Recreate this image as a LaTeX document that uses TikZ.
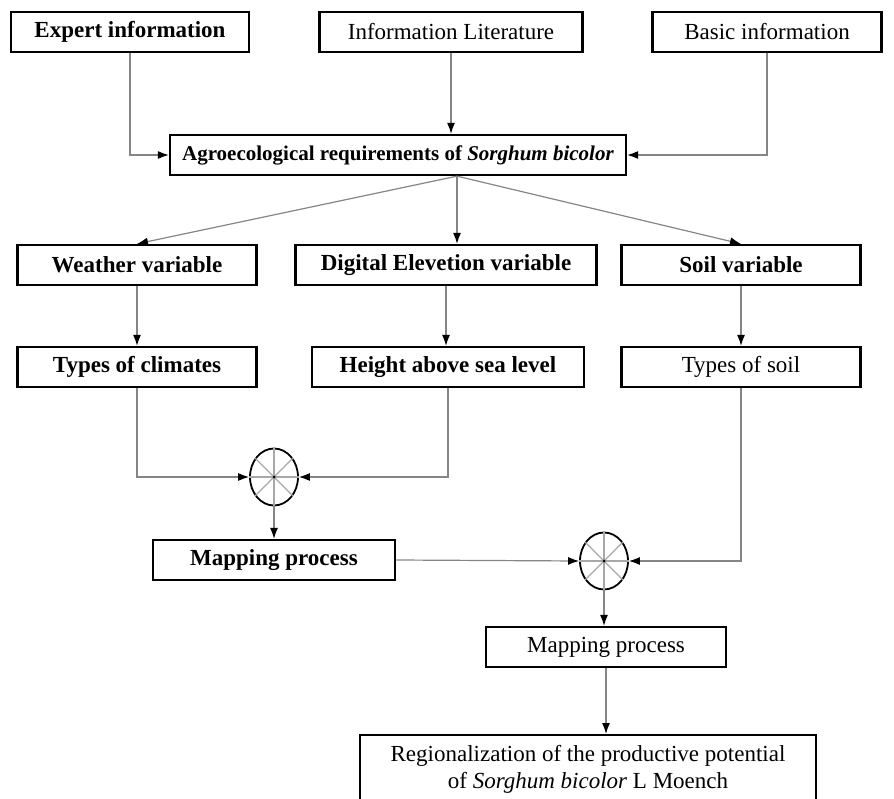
\documentclass[tikz,border=0pt]{standalone}
\usepackage{fontspec}
\setmainfont{Liberation Serif}
\usepackage{tikz}
\usetikzlibrary{calc,arrows.meta,shapes.geometric}
\definecolor{edge}{HTML}{858585}
\definecolor{spoke}{HTML}{A8A8A8}
\tikzset{
  box/.style={draw=black, line width=2.3pt, minimum height=40pt, inner sep=0pt, font=\fontsize{23}{27}\selectfont\bfseries},
  boxr/.style={box, font=\fontsize{23}{27}\selectfont},
  link/.style={draw=edge, line width=1.2pt, -{Latex[black,length=11pt,width=8pt]}},
  mixer/.style={ellipse, draw=black, line width=1.8pt, minimum width=48pt, minimum height=57pt, inner sep=0pt},
  spk/.style={draw=spoke, line width=1.2pt},
}

\begin{document}
\begin{tikzpicture}[x=1pt,y=-1pt]
  \useasboundingbox (0,0) rectangle (894,799);
  \clip (0,0) rectangle (894,799);
  % information sources
  \node[box, minimum width=238pt] (expert) at (130,32) {Expert information};
  \node[boxr, minimum width=263pt] (litt) at (451,32) {Information Literature};
  \node[boxr, minimum width=229pt] (basic) at (767,32) {Basic information};
  \node[box, minimum width=456pt, font=\fontsize{21}{25}\selectfont\bfseries] (agro) at (398,155)
    {Agroecological requirements of \textit{Sorghum bicolor}};
  \coordinate (fan) at ($(agro.south)+(59,0)$);
  % variables
  \node[box, minimum width=239pt] (weather) at (137,265) {Weather variable};
  \node[box, minimum width=301pt] (dem) at (446,265) {Digital Elevetion variable};
  \node[box, minimum width=239pt] (soil) at (741,265) {Soil variable};
  \node[box, minimum width=239pt] (climate) at (137,367) {Types of climates};
  \node[box, minimum width=272pt] (height) at (448,367) {Height above sea level};
  \node[boxr, minimum width=239pt] (soiltype) at (741,367) {Types of soil};
  % overlays
  \node[mixer] (mixA) at (274,477) {};
  \node[box, minimum width=242pt] (mapA) at (274,560) {Mapping process};
  \node[mixer] (mixB) at (604,561) {};
  \node[boxr, minimum width=240pt] (mapB) at (606,647) {Mapping process};
  \node[boxr, minimum width=456pt, minimum height=68pt, anchor=north, align=center] (region) at (588,734)
    {Regionalization of the productive potential\\of \textit{Sorghum bicolor} L Moench};
  \foreach \m in {mixA,mixB} {
    \draw[spk] (\m.north) -- (\m.south);
    \draw[spk] (\m.west) -- (\m.east);
    \draw[spk] (\m.45) -- (\m.225);
    \draw[spk] (\m.135) -- (\m.315);
    \fill (\m.center) circle (1.5);
  }
  % connectors
  \draw[link] (expert.south) |- (agro.west);
  \draw[link] (litt.south) -- (litt.south |- agro.north);
  \draw[link] (basic.south) |- (agro.east);
  \draw[link] (fan) -- (weather.north);
  \draw[link] (fan) -- (fan |- dem.north);
  \draw[link] (fan) -- (soil.north);
  \draw[link] (weather.south) -- (climate.north);
  \draw[link] (dem.south) -- (dem.south |- height.north);
  \draw[link] (soil.south) -- (soiltype.north);
  \draw[link] (climate.south) |- (mixA.west);
  \draw[link] (height.south) |- (mixA.east);
  \draw[link] (mixA.south) -- (mapA.north);
  \draw[link] (mapA.east) -- (mixB.west);
  \draw[link] (soiltype.south) |- (mixB.east);
  \draw[link] (mixB.south) -- (mixB.south |- mapB.north);
  \draw[link] (mapB.south) -- (mapB.south |- region.north);
\end{tikzpicture}
\end{document}
